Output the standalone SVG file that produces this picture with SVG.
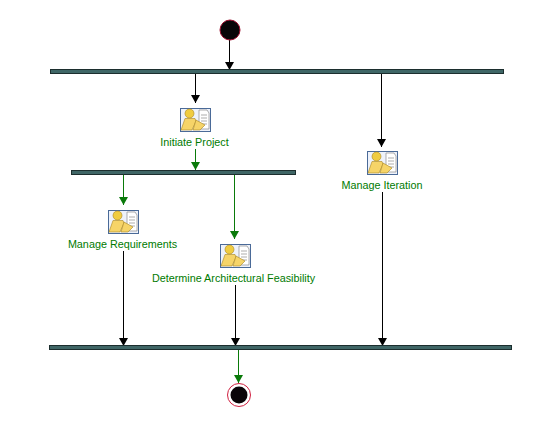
<svg xmlns="http://www.w3.org/2000/svg" width="533" height="428" viewBox="0 0 533 428">
<style>
.bar{fill:#3f6666;stroke:#1c2e2e;stroke-width:1}
.lbl{font-family:"Liberation Sans",Arial,sans-serif;font-size:10.8px;fill:#007a00;text-anchor:middle}
.k{stroke:#000;stroke-width:1;fill:none;marker-end:url(#ak)}
.g{stroke:#0a7a0a;stroke-width:1;fill:none;marker-end:url(#ag)}
</style>
<defs>
<marker id="ak" markerUnits="userSpaceOnUse" markerWidth="9" markerHeight="10" refX="8" refY="5" orient="auto"><path d="M0 0.500L8 5L0 9.500Z" fill="#000"/></marker>
<marker id="ag" markerUnits="userSpaceOnUse" markerWidth="9" markerHeight="10" refX="8" refY="5" orient="auto"><path d="M0 0.500L8 5L0 9.500Z" fill="#0a7a0a"/></marker>
<g id="icon">
<rect x="0.500" y="0.500" width="30" height="23" fill="#eef2fa" stroke="#4a6a98"/>
<path d="M19 2H27L29 5V21H19Z" fill="#fff" stroke="#8a8a8a" stroke-width="0.7"/>
<path d="M21 7H27M21 10H27M21 13H27M21 16H27" stroke="#8a8a8a" stroke-width="0.7"/>
<circle cx="9.500" cy="5.500" r="4.500" fill="#f0cc40" stroke="#a88520" stroke-width="0.6"/>
<path d="M5 10.500H15L16 13L12 22H1Z" fill="#f6d468" stroke="#a88520" stroke-width="0.6"/>
<path d="M13 22L16 12L25 17L20 22Z" fill="#f6d468" stroke="#a88520" stroke-width="0.6"/>
</g>
</defs>
<rect width="533" height="428" fill="#fff"/>
<g id="connectors">
<path class="k" d="M229.500 40V70"/>
<path class="k" d="M195.500 74V103"/>
<path class="k" d="M381.500 74V147"/>
<path class="g" d="M195.500 149V170"/>
<path class="g" d="M123.500 175V205"/>
<path class="g" d="M234.500 175V239"/>
<path class="k" d="M123.500 251V346"/>
<path class="k" d="M235.500 285V346"/>
<path class="k" d="M382.500 192V346"/>
<path class="g" d="M238.500 350V383"/>
</g>
<g id="start"><circle cx="230" cy="30" r="10" fill="#0a0508" stroke="#a01030" stroke-width="1"/></g>
<g id="fork-top"><rect class="bar" x="50.500" y="69.500" width="453" height="4"/></g>
<g id="fork-mid"><rect class="bar" x="71.500" y="170.500" width="224" height="4"/></g>
<g id="join-bottom"><rect class="bar" x="49.500" y="345.500" width="462" height="4"/></g>
<g id="initiate-project"><use href="#icon" x="180" y="108"/><text class="lbl" x="194.500" y="146">Initiate Project</text></g>
<g id="manage-iteration"><use href="#icon" x="367" y="151"/><text class="lbl" x="382" y="189">Manage Iteration</text></g>
<g id="manage-requirements"><use href="#icon" x="108" y="210"/><text class="lbl" x="122.500" y="248">Manage Requirements</text></g>
<g id="determine-feasibility"><use href="#icon" x="220" y="244"/><text class="lbl" x="233.500" y="282">Determine Architectural Feasibility</text></g>
<g id="end"><circle cx="239" cy="395" r="11.500" fill="#fff" stroke="#d02040" stroke-width="1"/><circle cx="239" cy="395" r="8.500" fill="#0a0508"/></g>
</svg>
